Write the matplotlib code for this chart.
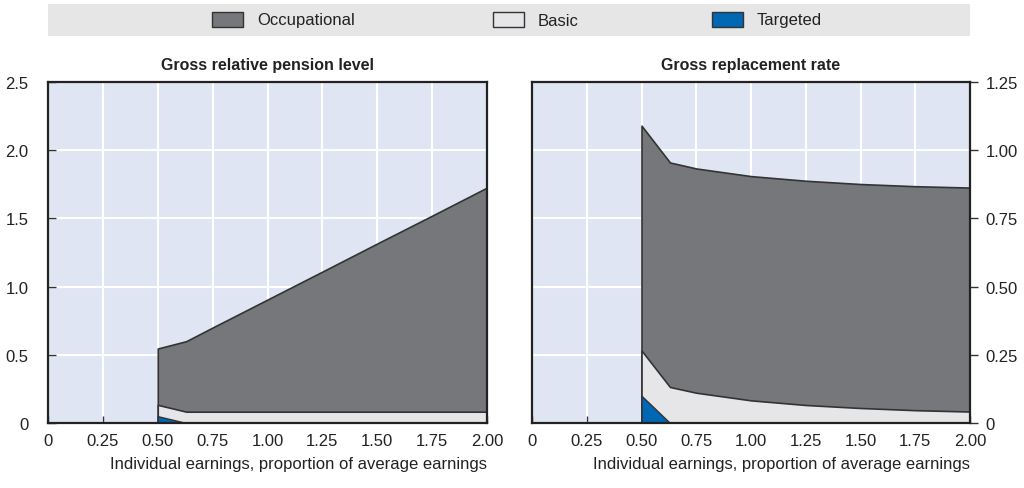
import matplotlib
matplotlib.use("Agg")
import matplotlib.pyplot as plt
from matplotlib import font_manager
from matplotlib.patches import Rectangle
import numpy as np

# font condensada si existe
names = set(f.name for f in font_manager.fontManager.ttflist)
narrow = "Liberation Sans Narrow" if "Liberation Sans Narrow" in names else "Liberation Sans"
plt.rcParams['font.family'] = [narrow, 'DejaVu Sans']

# datos
earnings = [0.5, 0.63, 0.75, 1.0, 1.25, 1.5, 1.75, 2.0]

level_targeted = [0.05, 0, 0, 0, 0, 0, 0, 0]
level_basic = [0.083, 0.083, 0.083, 0.083, 0.083, 0.083, 0.083, 0.083]
level_occupational = [0.413, 0.517, 0.617, 0.822, 1.027, 1.233, 1.437, 1.643]

rate_targeted = [0.10, 0, 0, 0, 0, 0, 0, 0]
rate_basic = [0.166, 0.132, 0.111, 0.083, 0.066, 0.055, 0.047, 0.042]
rate_occupational = [0.824, 0.823, 0.822, 0.822, 0.822, 0.821, 0.821, 0.821]

x_ticks = [0, 0.25, 0.5, 0.75, 1.0, 1.25, 1.5, 1.75, 2.0]
x_labels = ["0", "0.25", "0.50", "0.75", "1.00", "1.25", "1.50", "1.75", "2.00"]
left_ticks = [0, 0.5, 1.0, 1.5, 2.0, 2.5]
left_labels = ["0", "0.5", "1.0", "1.5", "2.0", "2.5"]
right_ticks = [0, 0.25, 0.5, 0.75, 1.0, 1.25]
right_labels = ["0", "0.25", "0.50", "0.75", "1.00", "1.25"]

series_names = ["Occupational", "Basic", "Targeted"]
colors = {"Occupational": "#76777b", "Basic": "#e6e6e8", "Targeted": "#0067b4"}
bg = "#dfe5f3"
edge = "#333333"
W, H = 1024, 489

fig = plt.figure(figsize=(10.24, 4.89), dpi=100)

# banda de la leyenda
fig.patches.append(Rectangle((48/W, 1 - 37/H), 922/W, 32/H, transform=fig.transFigure,
                             facecolor="#e6e6e6", edgecolor="none", zorder=0))
legend_x = [212, 493, 712]
for name, lx in zip(series_names, legend_x):
    fig.patches.append(Rectangle((lx/W, 1 - 28/H), 31/W, 15/H, transform=fig.transFigure,
                                 facecolor=colors[name], edgecolor=edge, linewidth=1, zorder=1))
    fig.text((lx + 45)/W, 1 - 21/H, name, fontsize=12, color="#222222", va="center", ha="left")


def StackedChart(ax, targeted, basic, occupational, ymax, title):
    ax.set_facecolor(bg)
    x = np.array(earnings)
    t = np.array(targeted)
    b = t + np.array(basic)
    o = b + np.array(occupational)
    ax.fill_between(x, 0, o, facecolor=colors["Occupational"], edgecolor=edge, linewidth=1.2, zorder=2)
    ax.fill_between(x, 0, b, facecolor=colors["Basic"], edgecolor=edge, linewidth=1.2, zorder=3)
    ax.fill_between(x, 0, t, facecolor=colors["Targeted"], edgecolor=edge, linewidth=1.0, zorder=4)
    ax.set_xlim(0, 2.0)
    ax.set_ylim(0, ymax)
    ax.set_xticks(x_ticks)
    ax.set_xticklabels(x_labels)
    ax.grid(True, color="white", linewidth=1.5, zorder=1)
    ax.set_axisbelow(True)
    for s in ax.spines.values():
        s.set_color("#222222")
        s.set_linewidth(1.6)
        s.set_zorder(6)
    ax.tick_params(axis="x", direction="in", length=5, width=1, color="#333333",
                   labelsize=12, labelcolor="#222222", pad=7)
    ax.set_xlabel("Individual earnings, proportion of average earnings", fontsize=12,
                  color="#222222", labelpad=6, loc="right")
    ax.set_title(title, fontsize=11.5, fontweight="bold", color="#222222", pad=9)


ax1 = fig.add_axes([48/W, 1 - 424/H, 439/W, 341/H])
StackedChart(ax1, level_targeted, level_basic, level_occupational, 2.5, "Gross relative pension level")
ax1.set_yticks(left_ticks)
ax1.set_yticklabels(left_labels)
ax1.tick_params(axis="y", direction="in", length=6, width=1, color="#333333",
                labelsize=12, labelcolor="#222222", pad=14)

ax2 = fig.add_axes([532/W, 1 - 424/H, 438/W, 341/H])
StackedChart(ax2, rate_targeted, rate_basic, rate_occupational, 1.25, "Gross replacement rate")
ax2.yaxis.tick_right()
ax2.set_yticks(right_ticks)
ax2.set_yticklabels(right_labels)
ax2.tick_params(axis="y", direction="out", length=6, width=1, color="#333333",
                labelsize=12, labelcolor="#222222", pad=5)

fig.savefig("out.png", dpi=100)
